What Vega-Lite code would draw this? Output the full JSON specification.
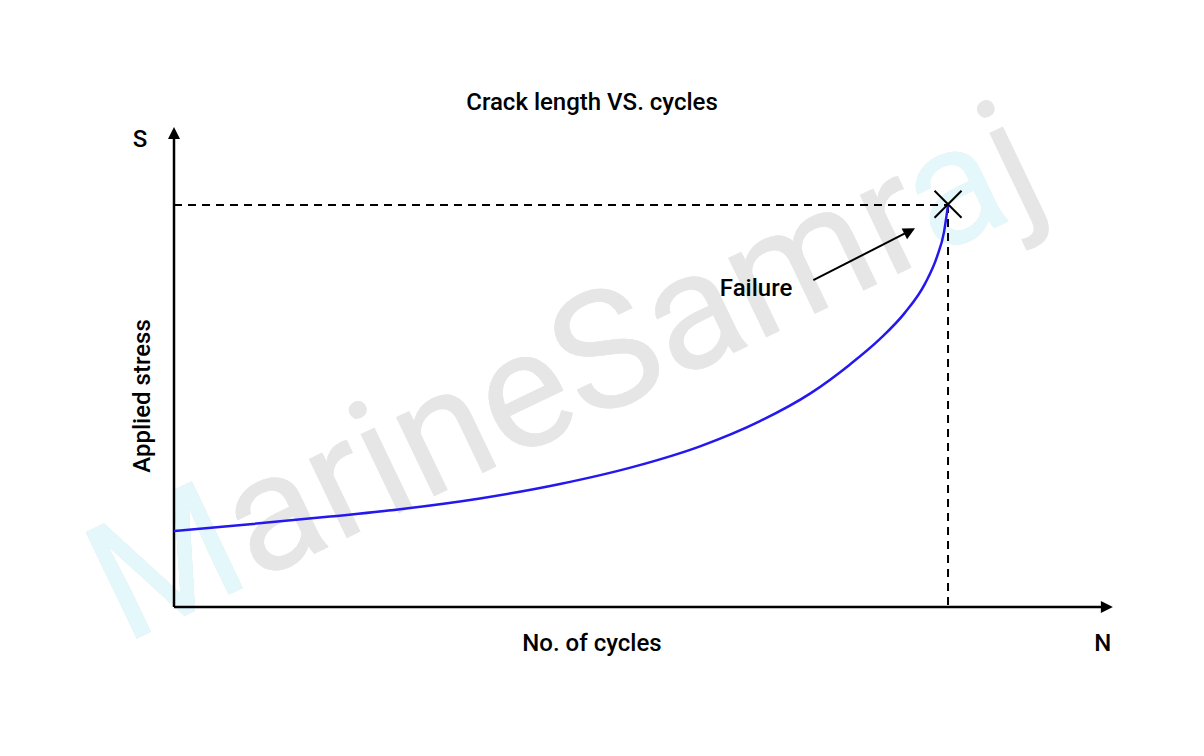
{
  "$schema": "https://vega.github.io/schema/vega-lite/v6.json",
  "description": "Crack length vs. cycles: applied stress against number of cycles up to failure.",
  "width": 1204,
  "height": 756,
  "autosize": {"type": "none"},
  "padding": 0,
  "background": "white",
  "datasets": {
    "curve": [
      {"x": 0, "y": 18.91},
      {"x": 9.82, "y": 20.6},
      {"x": 20.16, "y": 22.49},
      {"x": 29.2, "y": 24.33},
      {"x": 39.53, "y": 27.01},
      {"x": 49.87, "y": 30.6},
      {"x": 59.69, "y": 35.05},
      {"x": 67.96, "y": 39.98},
      {"x": 75.71, "y": 46.24},
      {"x": 82.17, "y": 53.08},
      {"x": 87.34, "y": 60.35},
      {"x": 91.21, "y": 66.69},
      {"x": 94.44, "y": 73.23},
      {"x": 97.03, "y": 80.45},
      {"x": 98.58, "y": 87.16},
      {"x": 99.48, "y": 93.26},
      {"x": 100, "y": 100}
    ],
    "axes": [
      {"x": 0, "y": 0, "x2": 120, "y2": 0},
      {"x": 0, "y": 0, "x2": 0, "y2": 118}
    ],
    "guides": [
      {"x": 0, "y": 100, "x2": 100, "y2": 100},
      {"x": 100, "y": 100, "x2": 100, "y2": 0}
    ],
    "pointer": [
      {"x": 82.6, "y": 81.3, "x2": 95.0, "y2": 93.5}
    ]
  },
  "encoding": {
    "x": {
      "field": "x",
      "type": "quantitative",
      "scale": {"domain": [-22.48, 133.07], "nice": false, "zero": false},
      "axis": null
    },
    "y": {
      "field": "y",
      "type": "quantitative",
      "scale": {"domain": [-37.06, 151.0], "nice": false, "zero": false},
      "axis": null
    }
  },
  "layer": [
    {
      "data": {"values": [{"x": -6.4, "y": -9.35, "label": "MarineSamraj"}]},
      "mark": {"type": "text", "font": "Roboto", "fontSize": 166, "angle": -25.6, "align": "left", "baseline": "alphabetic", "color": "#e6e6e6"},
      "encoding": {"text": {"field": "label"}}
    },
    {
      "data": {"values": [{"x": -6.4, "y": -9.35, "label": "MarineSamra"}]},
      "mark": {"type": "text", "font": "Roboto", "fontSize": 166, "angle": -25.6, "align": "left", "baseline": "alphabetic", "color": "#e4f8fc"},
      "encoding": {"text": {"field": "label"}}
    },
    {
      "data": {"values": [{"x": -6.4, "y": -9.35, "label": "MarineSamr"}]},
      "mark": {"type": "text", "font": "Roboto", "fontSize": 166, "angle": -25.6, "align": "left", "baseline": "alphabetic", "color": "#e6e6e6"},
      "encoding": {"text": {"field": "label"}}
    },
    {
      "data": {"values": [{"x": -6.4, "y": -9.35, "label": "M"}]},
      "mark": {"type": "text", "font": "Roboto", "fontSize": 166, "angle": -25.6, "align": "left", "baseline": "alphabetic", "color": "#e4f8fc"},
      "encoding": {"text": {"field": "label"}}
    },
    {
      "data": {"name": "guides"},
      "mark": {"type": "rule", "color": "black", "strokeWidth": 2, "strokeDash": [8, 6]},
      "encoding": {"x2": {"field": "x2"}, "y2": {"field": "y2"}}
    },
    {
      "data": {"name": "axes"},
      "mark": {"type": "rule", "color": "black", "strokeWidth": 2.5},
      "encoding": {"x2": {"field": "x2"}, "y2": {"field": "y2"}}
    },
    {
      "data": {"values": [{"x": 121.3, "y": 0}]},
      "mark": {"type": "point", "shape": "M0,0L-2,-1L-2,1Z", "size": 144, "filled": true, "color": "black", "opacity": 1, "strokeWidth": 0}
    },
    {
      "data": {"values": [{"x": 0, "y": 119.4}]},
      "mark": {"type": "point", "shape": "M0,0L-2,-1L-2,1Z", "size": 144, "angle": -90, "filled": true, "color": "black", "opacity": 1, "strokeWidth": 0}
    },
    {
      "data": {"name": "curve"},
      "mark": {"type": "line", "color": "#2418ee", "strokeWidth": 2.5, "interpolate": "monotone"}
    },
    {
      "data": {"values": [{"x": 100, "y": 100.2}]},
      "mark": {"type": "point", "shape": "M-1,-1L1,1M1,-1L-1,1", "size": 729, "filled": false, "color": "black", "opacity": 1, "strokeWidth": 2}
    },
    {
      "data": {"name": "pointer"},
      "mark": {"type": "rule", "color": "black", "strokeWidth": 2},
      "encoding": {"x2": {"field": "x2"}, "y2": {"field": "y2"}}
    },
    {
      "data": {"values": [{"x": 95.74, "y": 94.2}]},
      "mark": {"type": "point", "shape": "M0,0L-2,-1L-2,1Z", "size": 144, "angle": -27, "filled": true, "color": "black", "opacity": 1, "strokeWidth": 0}
    },
    {
      "data": {
        "values": [
          {"x": 54.0, "y": 125.4, "label": "Crack length VS. cycles"},
          {"x": 54.0, "y": -9.2, "label": "No. of cycles"},
          {"x": -4.4, "y": 116.2, "label": "S"},
          {"x": 120.0, "y": -9.2, "label": "N"},
          {"x": 75.2, "y": 79.1, "label": "Failure"}
        ]
      },
      "mark": {"type": "text", "font": "Roboto", "fontSize": 24, "fontWeight": 500, "align": "center", "baseline": "middle", "color": "black"},
      "encoding": {"text": {"field": "label"}}
    },
    {
      "data": {"values": [{"x": -4.0, "y": 52.5, "label": "Applied stress"}]},
      "mark": {"type": "text", "font": "Roboto", "fontSize": 24, "fontWeight": 500, "angle": 270, "align": "center", "baseline": "middle", "color": "black"},
      "encoding": {"text": {"field": "label"}}
    }
  ],
  "config": {
    "view": {"stroke": null}
  }
}
